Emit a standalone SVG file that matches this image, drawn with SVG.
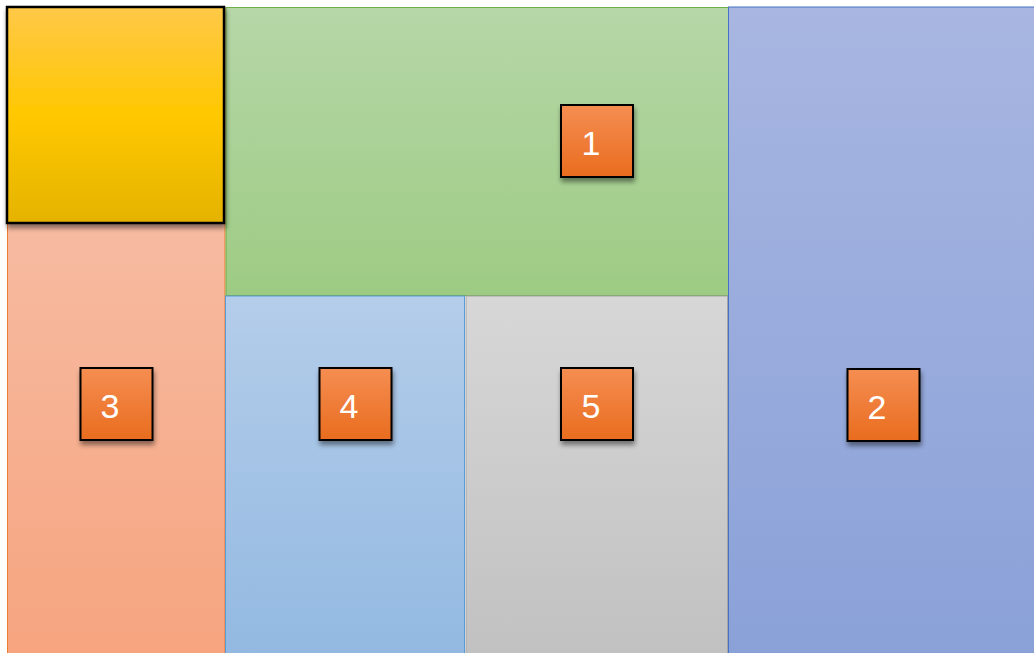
<svg xmlns="http://www.w3.org/2000/svg" width="1034" height="653" viewBox="0 0 1034 653">
<defs>
<linearGradient id="gGreen" x1="0" y1="0" x2="0" y2="1"><stop offset="0" stop-color="#b6d7a8"/><stop offset="1" stop-color="#9dcb83"/></linearGradient>
<linearGradient id="gBlue" x1="0" y1="0" x2="0" y2="1"><stop offset="0" stop-color="#a8b6e1"/><stop offset="1" stop-color="#8aa1d8"/></linearGradient>
<linearGradient id="gSalmon" x1="0" y1="0" x2="0" y2="1"><stop offset="0" stop-color="#f7c6b2"/><stop offset="1" stop-color="#f6a47f"/></linearGradient>
<linearGradient id="gLight" x1="0" y1="0" x2="0" y2="1"><stop offset="0" stop-color="#b4cdea"/><stop offset="1" stop-color="#93b9e1"/></linearGradient>
<linearGradient id="gGray" x1="0" y1="0" x2="0" y2="1"><stop offset="0" stop-color="#d7d7d7"/><stop offset="1" stop-color="#c1c1c1"/></linearGradient>
<linearGradient id="gYellow" x1="0" y1="0" x2="0" y2="1"><stop offset="0" stop-color="#ffc848"/><stop offset="0.5" stop-color="#ffc800"/><stop offset="1" stop-color="#e5b300"/></linearGradient>
<linearGradient id="gOrange" x1="0" y1="0" x2="0" y2="1"><stop offset="0" stop-color="#f58e52"/><stop offset="1" stop-color="#e96c1f"/></linearGradient>
<filter id="sh" x="-20%" y="-20%" width="150%" height="150%"><feGaussianBlur in="SourceAlpha" stdDeviation="2.5"/><feOffset dx="1" dy="4"/><feComponentTransfer><feFuncA type="linear" slope="0.45"/></feComponentTransfer><feMerge><feMergeNode/><feMergeNode in="SourceGraphic"/></feMerge></filter>
</defs>
<style>
.lbl{font-family:"Liberation Sans",Arial,sans-serif;font-size:34px;fill:#ffffff;text-anchor:middle}
.ob{fill:url(#gOrange);stroke:#000;stroke-width:2}
</style>
<rect width="1034" height="653" fill="#ffffff"/>
<g id="region-3"><rect x="7.5" y="7.5" width="217.5" height="650" fill="url(#gSalmon)" stroke="#ed7d31" stroke-width="1"/></g>
<g id="region-1"><rect x="226" y="7.5" width="503" height="288" fill="url(#gGreen)" stroke="#70ad47" stroke-width="1"/></g>
<g id="region-2"><rect x="728.5" y="7" width="310" height="650" fill="url(#gBlue)" stroke="#4472c4" stroke-width="1"/></g>
<g id="region-4"><rect x="225.5" y="296" width="239" height="360" fill="url(#gLight)" stroke="#5b9bd5" stroke-width="1"/></g>
<g id="region-5"><rect x="466" y="296" width="261.5" height="360" fill="url(#gGray)" stroke="#a5a5a5" stroke-width="1"/></g>
<g id="corner"><rect x="7" y="7" width="217" height="216" fill="url(#gYellow)" stroke="#000" stroke-width="2.5" filter="url(#sh)"/></g>
<g id="label-1"><rect class="ob" x="561" y="105" width="72" height="72" filter="url(#sh)"/><text class="lbl" x="591" y="155">1</text></g>
<g id="label-3"><rect class="ob" x="80.5" y="368" width="72" height="72" filter="url(#sh)"/><text class="lbl" x="110" y="418">3</text></g>
<g id="label-4"><rect class="ob" x="319.5" y="368" width="72" height="72" filter="url(#sh)"/><text class="lbl" x="349" y="418">4</text></g>
<g id="label-5"><rect class="ob" x="561" y="368" width="72" height="72" filter="url(#sh)"/><text class="lbl" x="591" y="418">5</text></g>
<g id="label-2"><rect class="ob" x="847.5" y="369" width="72" height="72" filter="url(#sh)"/><text class="lbl" x="877" y="419">2</text></g>
<g id="connectors"/>
</svg>
